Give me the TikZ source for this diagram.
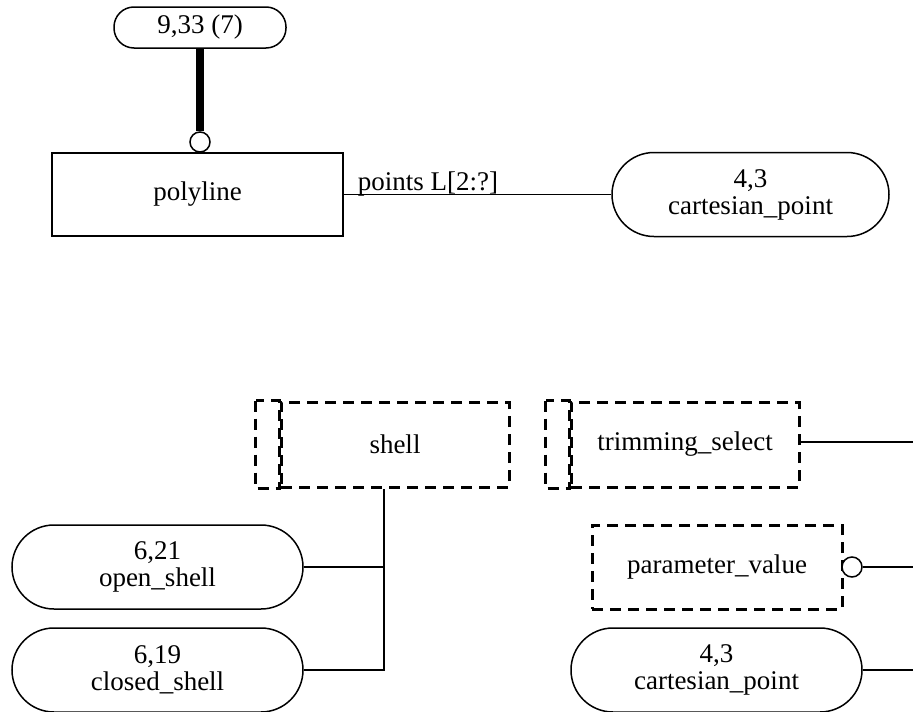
\documentclass[tikz,border=0pt]{standalone}
\usepackage{fontspec}
\setmainfont{Liberation Serif}
\usetikzlibrary{calc}

\tikzset{
    entity/.style={draw, line width=1.5pt, minimum width=291pt, minimum height=83pt, inner sep=0pt},
    typebox/.style={draw, line width=3pt, dash pattern=on 11pt off 7pt, minimum height=85pt, inner sep=0pt},
    leaf/.style={draw, line width=1.5pt, rounded corners=42pt, minimum width=291pt, minimum height=84pt, inner sep=0pt, align=center},
    ring/.style={draw, circle, fill=white, line width=1.5pt, minimum size=20pt, inner sep=0pt},
    rel/.style={line width=1.5pt},
}

\begin{document}
\begin{tikzpicture}[x=1pt, y=-1pt, font=\fontsize{27}{27}\selectfont]
    \useasboundingbox (0,0) rectangle (913,712);

    % upper part
    \node[draw, line width=1.5pt, rounded corners=20pt, minimum width=172pt, minimum height=41pt, inner sep=0pt] (page) at (200,27.5) {9,33 (7)};
    \node[ring] (tick) at (200,142) {};
    \draw[line width=8pt] (page.south) -- (tick.north);
    \node[entity] (polyline) at (197.5,194.5) {polyline};
    \node[leaf, minimum width=277pt] (point) at (750.5,194.5) {4,3\\cartesian\_point};
    \draw[rel] (polyline) -- (point);
    \node[anchor=base west, inner sep=0pt] (points) at ([xshift=14pt, yshift=4pt]polyline.east) {points L[2:?]};

    % lower part
    \node[typebox, minimum width=228pt] (shell) at (395,444.5) {shell};
    \draw[line width=3pt, dash pattern=on 11pt off 7pt] ([xshift=-24pt]shell.north west) rectangle (shell.south west);
    \node[leaf] (open) at (157.5,567) {6,21\\open\_shell};
    \node[leaf] (closed) at (157.5,670) {6,19\\closed\_shell};
    \draw[rel] (open.east) -| ([xshift=-11pt]shell.south);
    \draw[rel] (closed.east) -| ([xshift=-11pt]shell.south);

    \node[typebox, minimum width=228pt] (trim) at (685,444.5) {trimming\_select};
    \draw[line width=3pt, dash pattern=on 11pt off 7pt] ([xshift=-24pt]trim.north west) rectangle (trim.south west);
    \coordinate (e1) at (913,442);
    \draw[rel] (trim.east |- e1) -- (e1);

    \node[typebox, minimum width=250pt, minimum height=84pt] (param) at (717,567) {parameter\_value};
    \node[ring] (pring) at (852,567) {};
    \coordinate (e2) at (913,567);
    \draw[rel] (pring.east) -- (e2);

    \node[leaf] (cart) at (716.5,670) {4,3\\cartesian\_point};
    \coordinate (e3) at (913,670);
    \draw[rel] (cart.east) -- (e3);
\end{tikzpicture}
\end{document}
